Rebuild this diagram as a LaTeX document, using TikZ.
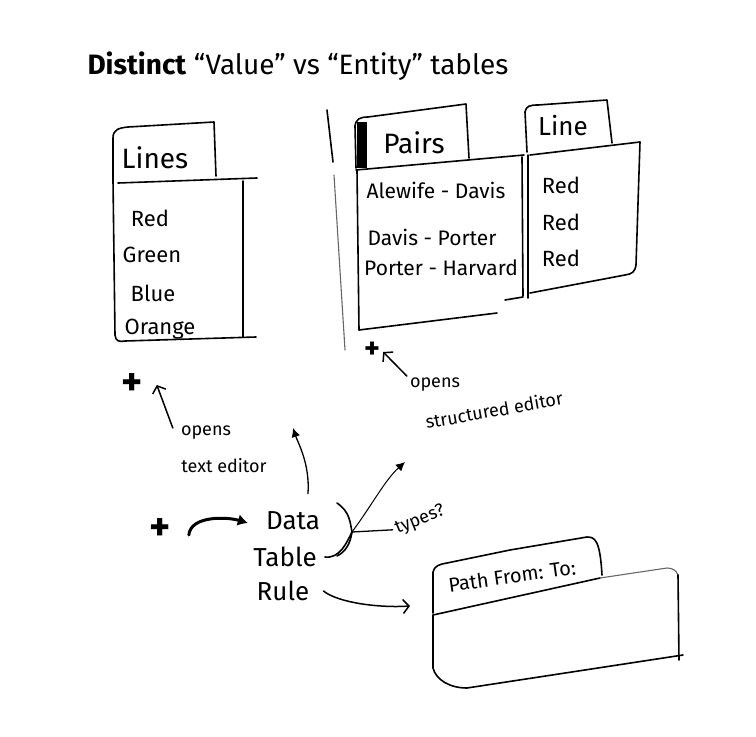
\documentclass[tikz,border=0pt]{standalone}
\usepackage{fontspec}
\setmainfont{Fira Sans}
\usetikzlibrary{arrows.meta}

\begin{document}
\begin{tikzpicture}[x = 1pt, y = -1pt,
  pen/.style = {line width = 1.6pt, line cap = round, line join = round},
  faint/.style = {line width = 1.1pt, black!60, line cap = round},
  title/.style = {inner sep = 0pt, font = \fontsize{28}{30}\selectfont},
  tab/.style = {inner sep = 0pt, font = \fontsize{28}{30}\selectfont},
  row/.style = {inner sep = 0pt, font = \fontsize{22}{24}\selectfont},
  note/.style = {inner sep = 0pt, font = \fontsize{18}{20}\selectfont},
  choice/.style = {inner sep = 0pt, font = \fontsize{26}{28}\selectfont},
  plus/.style = {inner sep = 0pt, font = \fontsize{40}{40}\selectfont\bfseries},
  edge/.style = {-{Latex[length = 9pt, width = 9pt]}, line width = 1.3pt, line cap = round},
  barb/.style = {-{Straight Barb[length = 6pt, width = 14pt]}, line width = 1.5pt, line cap = round}]

  \useasboundingbox (0,0) rectangle (756,737);

  \node[title] (title) at (298,66) {\textbf{Distinct} “Value” vs “Entity” tables};

  % value table
  \draw[pen] (113,180) -- (113,138) .. controls (113,130) and (118,128) .. (128,127) -- (214,122) -- (216,176);
  \draw[pen] (118,183) -- (257,178);
  \draw[pen] (243,181) -- (243,337);
  \draw[pen] (113,180) -- (115,335) .. controls (116,341) and (118,342) .. (125,341) -- (256,337);
  \node[tab] (lines) at (155,158) {Lines};
  \node[row] (red) at (150,218) {Red};
  \node[row] (green) at (152,255) {Green};
  \node[row] (blue) at (153,293) {Blue};
  \node[row] (orange) at (160,329) {Orange};

  \draw[pen] (327,110) -- (333,162);
  \draw[faint] (334,175) -- (345,350);

  % entity table
  \draw[pen] (356,168) -- (355,126) .. controls (356,119) and (360,117) .. (368,117) -- (466,104) -- (469,158);
  \fill (357,122) rectangle (367,168);
  \draw[pen] (356,170) -- (524,155);
  \draw[pen] (357,170) -- (359,330) -- (497,313);
  \draw[pen] (505,300) -- (523,297);
  \draw[pen] (522,157) -- (523,296);
  \draw[pen] (528,155) -- (528,298);
  \node[tab] (pairs) at (414,143) {Pairs};
  \node[row, font = \fontsize{21}{23}\selectfont] (alewife) at (436,190) {Alewife - Davis};
  \node[row, font = \fontsize{21}{23}\selectfont] (davis) at (432,237) {Davis - Porter};
  \node[row, font = \fontsize{21}{23}\selectfont] (porter) at (441,268) {Porter - Harvard};

  \draw[pen] (527,152) -- (525,112) .. controls (526,106) and (530,105) .. (538,105) -- (607,100) -- (612,143);
  \draw[pen] (530,155) -- (640,142);
  \draw[pen] (640,142) -- (636,265) .. controls (635,272) and (632,274) .. (625,275) -- (530,293);
  \node[tab, font = \fontsize{26}{28}\selectfont] (line) at (563,126) {Line};
  \node[row] (red1) at (561,185) {Red};
  \node[row] (red2) at (561,222) {Red};
  \node[row] (red3) at (561,258) {Red};

  % add buttons
  \node[plus] (plusL) at (132,385) {+};
  \node[note] (opensL) at (206,433) {opens};
  \node[note] (textL) at (224,466) {text editor};
  \draw[barb] ([shift = {(-8,2)}]opensL.north west) -- ([shift = {(14,0)}]plusL.east);

  \node[plus, font = \fontsize{30}{30}\selectfont\bfseries] (plusP) at (372,350) {+};
  \node[note] (opensR) at (435,385) {opens};
  \node[note, rotate = 10] (structR) at (494,410) {structured editor};
  \draw[barb] ([shift = {(-3,-2)}]opensR.north west) -- ([shift = {(3,2)}]plusP.east);

  % new table menu
  \node[plus] (plusD) at (160,530) {+};
  \node[choice] (data) at (293,521) {Data};
  \node[choice] (table) at (285,557) {Table};
  \node[choice] (rule) at (283,591) {Rule};
  \draw[-{Latex[length = 10pt, width = 12pt]}, line width = 3pt, line cap = round]
    ([shift = {(18,5)}]plusD.east) .. controls +(2,-20) and +(-20,-6) .. ([shift = {(-18,2)}]data.west);

  \coordinate (toText) at (293,428);
  \draw[edge] ([shift = {(15,-18)}]data.north) .. controls +(2,-30) and +(5,15) .. (toText);

  \coordinate (fork) at (352,532);
  \coordinate (toStruct) at (405,462);
  \draw[pen] (337,503) .. controls (350,512) and (350,522) .. (fork) .. controls (350,545) and (345,552) .. (337,556);
  \draw[pen] ([xshift = 8pt]table.east) .. controls +(15,2) and +(-5,10) .. (fork);
  \node[note, rotate = 22] (types) at (420,520) {types?};
  \draw[line width = 1.3pt, line cap = round] (fork) -- ([xshift = -3pt]types.west);
  \draw[edge, line width = 1pt] (fork) .. controls (372,505) and (385,480) .. (toStruct);

  % rule table
  \draw[pen] (433,613) -- (433,572) .. controls (434,566) and (440,564) .. (447,563) -- (510,550) -- (587,537) .. controls (595,537) and (600,540) .. (602,575);
  \draw[pen] (433,615) -- (600,578);
  \draw[faint] (600,578) -- (667,568) .. controls (672,568) and (676,570) .. (678,575);
  \draw[pen] (678,575) -- (679,660);
  \draw[pen] (433,615) -- (433,668) .. controls (436,680) and (450,688) .. (467,688) -- (683,655);
  \node[note, font = \fontsize{20}{22}\selectfont, rotate = 8] (pathhdr) at (512,576) {Path From: To:};
  \coordinate (toPath) at (410,606);
  \draw[barb] ([xshift = 14pt]rule.east) .. controls +(15,12) and +(-30,2) .. (toPath);
\end{tikzpicture}
\end{document}
